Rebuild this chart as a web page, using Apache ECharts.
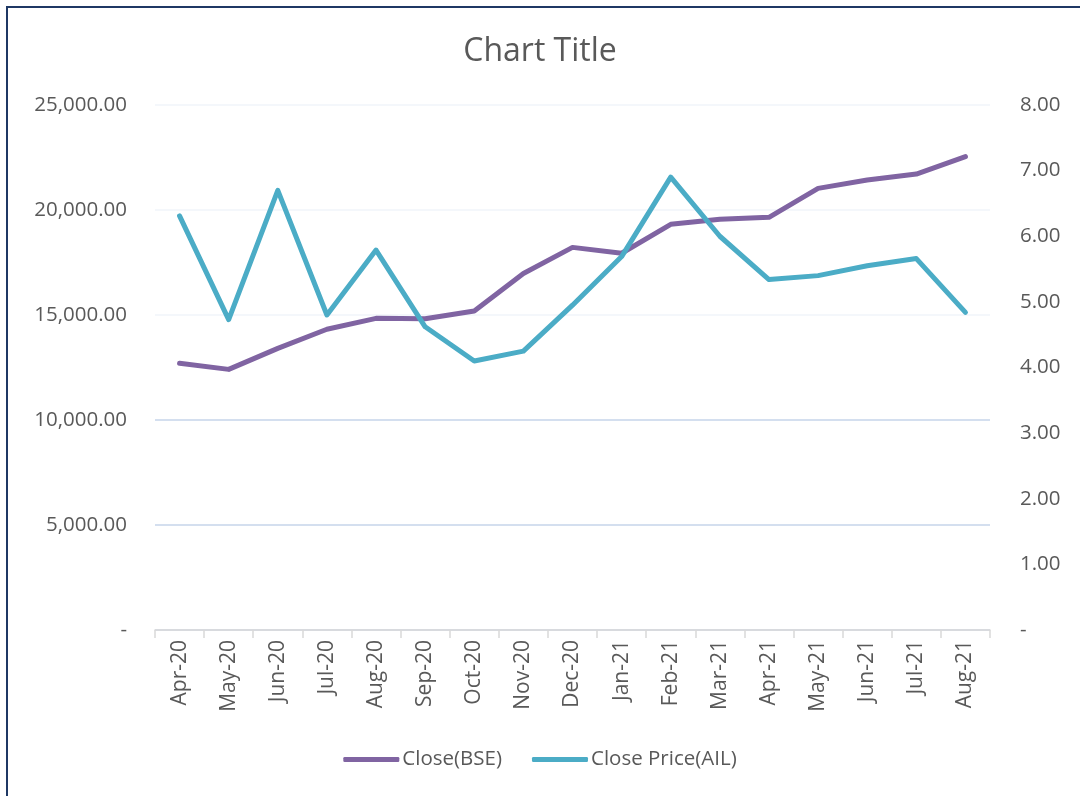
<!DOCTYPE html>
<html>
<head>
<meta charset="utf-8">
<script src="https://cdn.jsdelivr.net/npm/echarts@6/dist/echarts.min.js"></script>
<style>html,body{margin:0;padding:0;background:#fff}#c{width:1080px;height:796px}</style>
</head>
<body>
<div id="c"></div>
<script>
const categories = ['Apr-20','May-20','Jun-20','Jul-20','Aug-20','Sep-20','Oct-20','Nov-20','Dec-20','Jan-21','Feb-21','Mar-21','Apr-21','May-21','Jun-21','Jul-21','Aug-21'];
const closeBSE = [12700,12410,13410,14320,14840,14820,15190,16980,18220,17940,19320,19560,19650,21030,21430,21710,22540];
const closeAIL = [6.31,4.73,6.70,4.80,5.79,4.62,4.10,4.25,4.95,5.69,6.90,6.00,5.34,5.40,5.55,5.66,4.84];
const seriesNames = ['Close(BSE)','Close Price(AIL)'];
const titleText = 'Chart Title';

const FONT = '"Open Sans", "Noto Sans", sans-serif';
const TXT = '#595959';
function fmt(v){ return v === 0 ? '-' : v.toLocaleString('en-US',{minimumFractionDigits:2, maximumFractionDigits:2}); }

const chart = echarts.init(document.getElementById('c'));
chart.setOption({
  backgroundColor:'#fff',
  animation:false,
  title:{ text:titleText, left:'center', top:31, textStyle:{ fontFamily:FONT, fontSize:32, fontWeight:'normal', color:TXT } },
  graphic:[{ type:'rect', shape:{x:7,y:7,width:1100,height:820}, style:{ fill:'none', stroke:'#1f3864', lineWidth:2 }, z:100 }],
  grid:{ left:155, right:90, top:105, bottom:166 },
  legend:{ bottom:21, left:'center', itemWidth:56, itemHeight:5, itemGap:30, icon:'roundRect',
    textStyle:{ fontFamily:FONT, fontSize:20.5, color:TXT, padding:[0,0,0,-2] }, data:seriesNames },
  xAxis:{ type:'category', data:categories, boundaryGap:true,
    axisLine:{ lineStyle:{ color:'#d9d9d9', width:1.5 } },
    axisTick:{ show:true, length:8, lineStyle:{ color:'#d9d9d9', width:1.5 } },
    axisLabel:{ rotate:90, interval:0, margin:10, fontFamily:FONT, fontSize:21, color:TXT } },
  yAxis:[
    { type:'value', min:0, max:25000, interval:5000, position:'left',
      axisLine:{show:false}, axisTick:{show:false},
      axisLabel:{ formatter:fmt, margin:28, fontFamily:FONT, fontSize:20.5, color:TXT },
      splitLine:{ show:true, lineStyle:{ color:['#c6d4ea','#c6d4ea','#c6d4ea','#f1f5fa','#f1f5fa','#f1f5fa'], width:1.5 } } },
    { type:'value', min:0, max:8, interval:1, position:'right',
      axisLine:{show:false}, axisTick:{show:false}, splitLine:{show:false},
      axisLabel:{ formatter:fmt, margin:30, fontFamily:FONT, fontSize:20.5, color:TXT } }
  ],
  series:[
    { name:seriesNames[0], type:'line', yAxisIndex:0, data:closeBSE, symbol:'none', color:'#8064a2',
      lineStyle:{ width:5, color:'#8064a2', cap:'round', join:'round' } },
    { name:seriesNames[1], type:'line', yAxisIndex:1, data:closeAIL, symbol:'none', color:'#4bacc6',
      lineStyle:{ width:5, color:'#4bacc6', cap:'round', join:'round' } }
  ]
});
</script>
</body>
</html>
